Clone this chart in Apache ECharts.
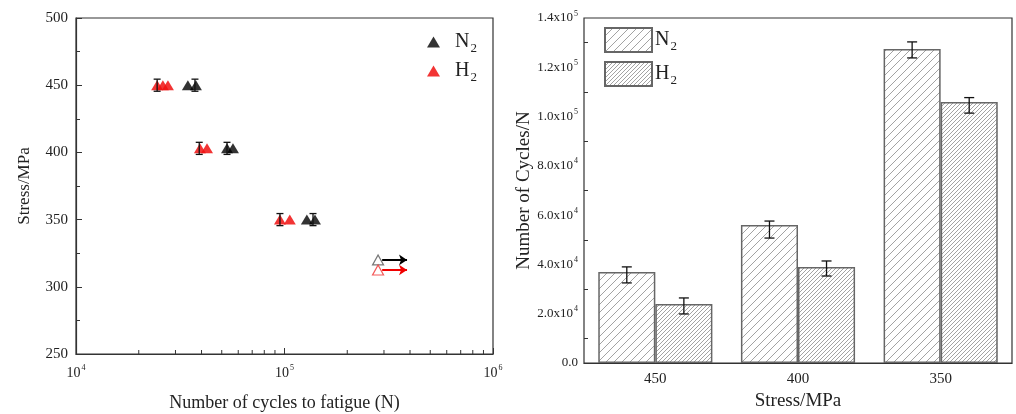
<!DOCTYPE html>
<html>
<head>
<meta charset="utf-8">
<script src="https://cdn.jsdelivr.net/npm/echarts@6/dist/echarts.min.js"></script>
<style>
html, body { margin: 0; padding: 0; background: #fff; }
#main { width: 1016px; height: 414px; }
</style>
</head>
<body>
<div id="main"></div>
<script>
var chart = echarts.init(document.getElementById('main'));

// left panel: S-N data (cycles, stress)
var n2Points = [[34400, 450], [37600, 450], [53000, 403], [56600, 403], [128000, 350], [140000, 350]];
var h2Points = [[24500, 450], [26100, 450], [27600, 450], [39300, 403], [42500, 403], [95100, 350], [106000, 350]];
var n2Err = [[37200, 450, 445.5, 454.5], [53000, 403, 398.5, 407.5], [137000, 350, 345.5, 354.5]];
var h2Err = [[24500, 450, 445.5, 454.5], [39000, 403, 398.5, 407.5], [95100, 350, 345.5, 354.5]];
var n2Runout = [[281000, 320]];
var h2Runout = [[281000, 312.5]];
var n2Arrow = [[294000, 320], [387000, 320]];
var h2Arrow = [[294000, 312.5], [387000, 312.5]];
var logMinor = [20000, 30000, 40000, 50000, 60000, 70000, 80000, 90000,
                200000, 300000, 400000, 500000, 600000, 700000, 800000, 900000];

// right panel: mean cycles with error range
var stressCats = ['450', '400', '350'];
var n2Cycles = [36900, 56000, 127400];
var h2Cycles = [23900, 39000, 105900];
var n2Low = [32500, 50700, 123800];
var n2High = [39000, 57600, 130300];
var h2Low = [19900, 35300, 101400];
var h2High = [26400, 41400, 107700];

var serif = 'Liberation Serif';
var txt = '#222';

function hatch(step, color) {
    var c = document.createElement('canvas');
    c.width = step; c.height = step;
    var ctx = c.getContext('2d');
    ctx.fillStyle = '#fff';
    ctx.fillRect(0, 0, step, step);
    ctx.strokeStyle = color;
    ctx.lineWidth = 0.9;
    ctx.beginPath();
    ctx.moveTo(0, step); ctx.lineTo(step, 0);
    ctx.moveTo(-1, 1); ctx.lineTo(1, -1);
    ctx.moveTo(step - 1, step + 1); ctx.lineTo(step + 1, step - 1);
    ctx.stroke();
    return { image: c, repeat: 'repeat' };
}

function supRich(size) {
    return {
        b: { fontFamily: serif, fontSize: size, color: txt, lineHeight: size + 4 },
        s: { fontFamily: serif, fontSize: Math.round(size * 0.6), color: txt, verticalAlign: 'top', lineHeight: size + 4, padding: [0, 0, 0, 1] }
    };
}

var subRich = {
    n: { fontFamily: serif, fontSize: 20, color: txt, lineHeight: 22 },
    sub: { fontFamily: serif, fontSize: 13, color: txt, verticalAlign: 'bottom', lineHeight: 26, padding: [0, 0, 0, 1] }
};

function legendName(name) {
    return '{n|' + name.charAt(0) + '}{sub|2}';
}

function errBar(xi, lo, hi, cap, offsetFrac) {
    return function (params, api) {
        var x = api.value(xi);
        var p1 = api.coord([x, api.value(lo)]);
        var p2 = api.coord([x, api.value(hi)]);
        var dx = 0;
        if (offsetFrac) dx = api.size([1, 0])[0] * offsetFrac;
        var cx = p1[0] + dx;
        var st = { stroke: '#111', lineWidth: 1.3 };
        return {
            type: 'group',
            children: [
                { type: 'line', shape: { x1: cx, y1: p1[1], x2: cx, y2: p2[1] }, style: st },
                { type: 'line', shape: { x1: cx - cap, y1: p1[1], x2: cx + cap, y2: p1[1] }, style: st },
                { type: 'line', shape: { x1: cx - cap, y1: p2[1], x2: cx + cap, y2: p2[1] }, style: st }
            ]
        };
    };
}

var axisLine = { lineStyle: { color: '#333', width: 1.2 } };

var option = {
    backgroundColor: '#fff',
    animation: false,
    grid: [
        { left: 76, top: 18, width: 417, height: 336, show: true, borderColor: '#333', borderWidth: 1.2, outerBoundsMode: 'none', containLabel: false },
        { left: 584, top: 18, width: 428, height: 345, show: true, borderColor: '#333', borderWidth: 1.2, outerBoundsMode: 'none', containLabel: false }
    ],
    legend: [
        {
            data: ['N2_s', 'H2_s'], orient: 'vertical', left: 422, top: 27, itemGap: 6,
            icon: 'triangle', itemWidth: 13, itemHeight: 11, selectedMode: false,
            formatter: legendName, textStyle: { rich: subRich, padding: [0, 0, 0, 10] }
        },
        {
            data: ['N2_b', 'H2_b'], orient: 'vertical', left: 599, top: 22, itemGap: 8,
            icon: 'rect', itemWidth: 47, itemHeight: 24, selectedMode: false,
            formatter: legendName, textStyle: { rich: subRich, padding: [0, 0, 0, -2] }
        }
    ],
    xAxis: [
        {
            gridIndex: 0, type: 'log', logBase: 10, min: 10000, max: 1000000,
            axisLine: axisLine, axisTick: { inside: true, length: 6, lineStyle: { color: '#333' } },
            splitLine: { show: false },
            axisLabel: {
                margin: 10,
                formatter: function (v) { return '{b|10}{s|' + Math.round(Math.log10(v)) + '}'; },
                rich: supRich(14)
            },
            name: 'Number of cycles to fatigue (N)', nameLocation: 'middle', nameGap: 40,
            nameTextStyle: { fontFamily: serif, fontSize: 18, color: txt }
        },
        {
            gridIndex: 1, type: 'category', data: stressCats,
            axisLine: axisLine, axisTick: { show: false },
            axisLabel: { fontFamily: serif, fontSize: 15, color: txt, margin: 9 },
            name: 'Stress/MPa', nameLocation: 'middle', nameGap: 28,
            nameTextStyle: { fontFamily: serif, fontSize: 19, color: txt }
        }
    ],
    yAxis: [
        {
            gridIndex: 0, type: 'value', min: 250, max: 500, interval: 50,
            axisLine: axisLine, axisTick: { inside: true, length: 6, lineStyle: { color: '#333' } },
            minorTick: { show: true, splitNumber: 2, length: 4, lineStyle: { color: '#333' } },
            splitLine: { show: false },
            axisLabel: { fontFamily: serif, fontSize: 15, color: txt, margin: 8 },
            name: 'Stress/MPa', nameLocation: 'middle', nameGap: 43,
            nameTextStyle: { fontFamily: serif, fontSize: 17, color: txt }
        },
        {
            gridIndex: 1, type: 'value', min: 0, max: 140000, interval: 20000,
            axisLine: axisLine, axisTick: { inside: true, length: 6, lineStyle: { color: '#333' } },
            minorTick: { show: true, splitNumber: 2, length: 4, lineStyle: { color: '#333' } },
            splitLine: { show: false },
            axisLabel: {
                margin: 6,
                formatter: function (v) {
                    if (v === 0) return '{b|0.0}';
                    var e = Math.floor(Math.log10(v));
                    return '{b|' + (v / Math.pow(10, e)).toFixed(1) + 'x10}{s|' + e + '}';
                },
                rich: supRich(13)
            },
            name: 'Number of Cycles/N', nameLocation: 'middle', nameGap: 50,
            nameTextStyle: { fontFamily: serif, fontSize: 19, color: txt }
        }
    ],
    series: [
        {
            type: 'custom', xAxisIndex: 0, yAxisIndex: 0, silent: true, data: logMinor,
            renderItem: function (params, api) {
                var p = api.coord([api.value(0), 250]);
                return { type: 'line', shape: { x1: p[0], y1: p[1], x2: p[0], y2: p[1] - 4 }, style: { stroke: '#333', lineWidth: 1 } };
            },
            encode: { x: 0 }
        },
        {
            name: 'H2_s', type: 'scatter', xAxisIndex: 0, yAxisIndex: 0, data: h2Points,
            symbol: 'triangle', symbolSize: [12, 10], itemStyle: { color: '#f01010', opacity: 0.85 }
        },
        {
            name: 'N2_s', type: 'scatter', xAxisIndex: 0, yAxisIndex: 0, data: n2Points,
            symbol: 'triangle', symbolSize: [12, 10], itemStyle: { color: '#000' }
        },
        {
            type: 'custom', xAxisIndex: 0, yAxisIndex: 0, data: h2Err, silent: true, z: 10,
            renderItem: errBar(0, 2, 3, 3.5, 0), encode: { x: 0, y: [2, 3] }
        },
        {
            type: 'custom', xAxisIndex: 0, yAxisIndex: 0, data: n2Err, silent: true, z: 10,
            renderItem: errBar(0, 2, 3, 3.5, 0), encode: { x: 0, y: [2, 3] }
        },
        {
            type: 'scatter', xAxisIndex: 0, yAxisIndex: 0, data: n2Runout,
            symbol: 'triangle', symbolSize: [11, 10],
            itemStyle: { color: '#fff', borderColor: '#555', borderWidth: 1.2 }
        },
        {
            type: 'scatter', xAxisIndex: 0, yAxisIndex: 0, data: h2Runout,
            symbol: 'triangle', symbolSize: [11, 10],
            itemStyle: { color: '#fff', borderColor: '#f03030', borderWidth: 1.2 }
        },
        {
            type: 'lines', coordinateSystem: 'cartesian2d', xAxisIndex: 0, yAxisIndex: 0,
            symbol: ['none', 'arrow'], symbolSize: 8,
            lineStyle: { color: '#000', width: 2, opacity: 1 },
            data: [{ coords: n2Arrow }]
        },
        {
            type: 'lines', coordinateSystem: 'cartesian2d', xAxisIndex: 0, yAxisIndex: 0,
            symbol: ['none', 'arrow'], symbolSize: 8,
            lineStyle: { color: '#f00000', width: 2, opacity: 1 },
            data: [{ coords: h2Arrow }]
        },
        {
            name: 'N2_b', type: 'bar', xAxisIndex: 1, yAxisIndex: 1, data: n2Cycles,
            barGap: '0%', barCategoryGap: '20%',
            itemStyle: { color: hatch(8, '#999'), borderColor: '#666', borderWidth: 1.5 }
        },
        {
            name: 'H2_b', type: 'bar', xAxisIndex: 1, yAxisIndex: 1, data: h2Cycles,
            itemStyle: { color: hatch(4, '#999'), borderColor: '#666', borderWidth: 1.5 }
        },
        {
            type: 'custom', xAxisIndex: 1, yAxisIndex: 1, silent: true, z: 10,
            data: stressCats.map(function (c, i) { return [i, n2Low[i], n2High[i]]; }),
            renderItem: errBar(0, 1, 2, 5, -0.2), encode: { x: 0, y: [1, 2] }
        },
        {
            type: 'custom', xAxisIndex: 1, yAxisIndex: 1, silent: true, z: 10,
            data: stressCats.map(function (c, i) { return [i, h2Low[i], h2High[i]]; }),
            renderItem: errBar(0, 1, 2, 5, 0.2), encode: { x: 0, y: [1, 2] }
        }
    ]
};

chart.setOption(option);
</script>
</body>
</html>
